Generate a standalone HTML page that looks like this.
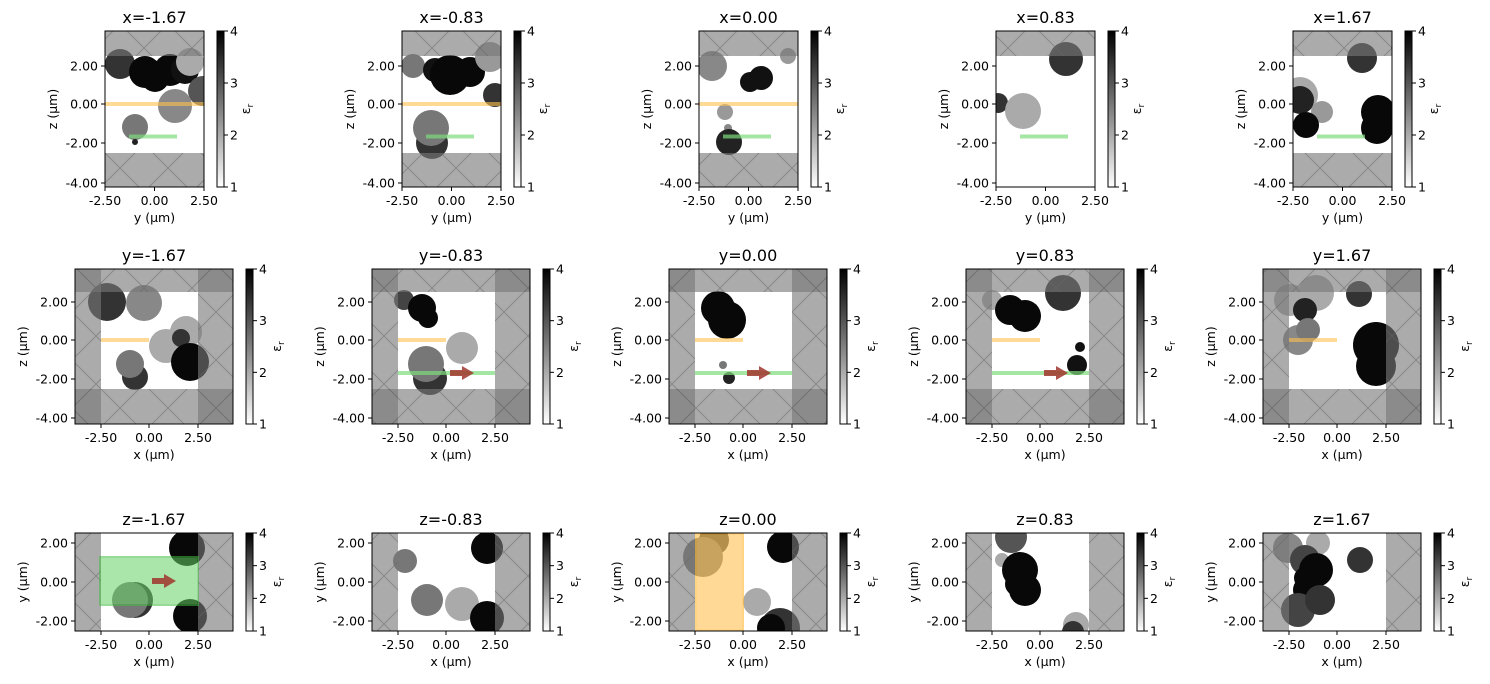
<!DOCTYPE html>
<html><head><meta charset="utf-8"><style>
body{margin:0;background:#fff;}
svg{display:block;font-family:"DejaVu Sans","Liberation Sans",sans-serif;}
</style></head><body>
<svg id="s" width="1490" height="684" xmlns="http://www.w3.org/2000/svg">
<defs>
<pattern id="h" width="48" height="48" patternUnits="userSpaceOnUse">
<path d="M0 0L48 48M48 0L0 48" stroke="#666" stroke-width="1" fill="none"/>
</pattern>
<linearGradient id="cb" x1="0" y1="1" x2="0" y2="0"><stop offset="0" stop-color="#fff"/><stop offset="1" stop-color="#000"/></linearGradient>
</defs>
</svg>
<script>
const S=document.getElementById('s');let out='';
function txt(x,y,t,sz,anc,extra){out+=`<text x="${x}" y="${y}" font-size="${sz}" text-anchor="${anc||'middle'}" ${extra||''}>${t}</text>`;}
const rows=[
 {y0:31,h:156,w:99,xs:[105,402,699,996,1293],xt:[0,49.5,99],xl:['-2.50','0.00','2.50'],yt:[[66,'2.00'],[104,'0.00'],[143,'-2.00'],[183,'-4.00']],
  xlab:'y (μm)',ylab:'z (μm)',tit:['x=-1.67','x=-0.83','x=0.00','x=0.83','x=1.67'],cbx:112,cbl:145,
  gray:(i)=>[[0,0,99,25]].concat(i==3?[]:[[0,122,99,34]])},
 {y0:269,h:155,w:158,xs:[75,372,669,966,1263],xt:[26,74,123],xl:['-2.50','0.00','2.50'],yt:[[302,'2.00'],[340,'0.00'],[379,'-2.00'],[418,'-4.00']],
  xlab:'x (μm)',ylab:'z (μm)',tit:['y=-1.67','y=-0.83','y=0.00','y=0.83','y=1.67'],cbx:171,cbl:206,
  gray:()=>[[0,0,26,155],[123,0,35,155],[0,0,158,23],[0,120,158,35]]},
 {y0:533,h:98,w:158,xs:[75,372,669,966,1263],xt:[26,74,123],xl:['-2.50','0.00','2.50'],yt:[[543,'2.00'],[582,'0.00'],[621,'-2.00']],
  xlab:'x (μm)',ylab:'y (μm)',tit:['z=-1.67','z=-0.83','z=0.00','z=0.83','z=1.67'],cbx:171,cbl:206,
  gray:()=>[[0,0,26,98],[123,0,35,98]]}
];
const C=[
[[[120,64,15,'#333'],[145,72,16,'#080808'],[155,78,14,'#080808'],[170,70,16,'#080808'],[185,70,14,'#111'],[190,62,14,'#aaa'],[203,91,15,'#555'],[175,106,17,'#888'],[135,127,13,'#777'],[135,142,3,'#222']],
 [[413,66,12,'#777'],[435,70,12,'#111'],[450,75,20,'#080808'],[470,72,15,'#080808'],[490,57,15,'#999'],[495,95,12,'#333'],[432,143,16,'#333'],[431,128,18,'#777']],
 [[712,66,15,'#888'],[750,82,10,'#111'],[761,78,12,'#111'],[788,56,8,'#999'],[725,112,8,'#999'],[728,128,4,'#888'],[729,142,13,'#222']],
 [[1066,59,17,'#333'],[998,103,10,'#333'],[1023,111,18,'#aaa']],
 [[1300,95,18,'#aaa'],[1300,100,14,'#222'],[1322,112,11,'#999'],[1306,125,13,'#080808'],[1362,58,15,'#333'],[1378,112,17,'#080808'],[1377,128,16,'#080808']]],
[[[107,302,19,'#333'],[144,303,18,'#888'],[186,332,16,'#aaa'],[166,346,17,'#aaa'],[181,338,9,'#333'],[190,362,19,'#080808'],[135,377,13,'#333'],[130,364,14,'#777']],
 [[404,300,10,'#444'],[422,308,14,'#080808'],[428,318,10,'#080808'],[430,378,17,'#333'],[426,364,18,'#777'],[462,348,16,'#aaa']],
 [[718,308,17,'#080808'],[727,320,19,'#080808'],[723,365,4,'#777'],[729,378,6,'#222']],
 [[992,300,10,'#aaa'],[1010,310,15,'#080808'],[1025,316,16,'#080808'],[1063,293,18,'#333'],[1080,347,5,'#111'],[1077,365,10,'#111']],
 [[1290,300,16,'#aaa'],[1316,293,18,'#aaa'],[1305,310,12,'#222'],[1298,340,15,'#888'],[1308,330,12,'#777'],[1359,294,13,'#333'],[1376,345,23,'#080808'],[1376,366,20,'#080808']]],
[[[187,548,18,'#080808'],[190,616,17,'#080808'],[135,600,18,'#333'],[130,600,18,'#777']],
 [[405,561,12,'#777'],[427,600,16,'#777'],[462,604,17,'#aaa'],[487,548,16,'#080808'],[487,618,17,'#080808']],
 [[714,540,15,'#444'],[703,557,20,'#777'],[757,602,14,'#aaa'],[783,547,16,'#080808'],[780,628,20,'#333'],[771,628,14,'#080808']],
 [[1011,537,16,'#555'],[1002,560,7,'#aaa'],[1020,570,18,'#080808'],[1025,590,16,'#080808'],[1017,584,12,'#080808'],[1076,625,13,'#aaa'],[1073,632,11,'#333']],
 [[1288,548,15,'#888'],[1318,543,12,'#aaa'],[1305,560,15,'#444'],[1316,570,17,'#080808'],[1307,590,14,'#080808'],[1298,610,17,'#444'],[1320,600,15,'#333'],[1360,560,13,'#333'],[1305,578,11,'#080808']]]
];
function arrow(x,y){out+=`<polygon points="${x},${y-3} ${x+12},${y-3} ${x+12},${y-7} ${x+24},${y} ${x+12},${y+7} ${x+12},${y+3} ${x},${y+3}" fill="#a0352c" opacity="0.85"/>`;}
rows.forEach((R,ri)=>{R.xs.forEach((x0,ci)=>{
 const y0=R.y0,w=R.w,h=R.h,id=`c${ri}${ci}`;
 out+=`<clipPath id="${id}"><rect x="${x0}" y="${y0}" width="${w}" height="${h}"/></clipPath><g clip-path="url(#${id})">`;
 C[ri][ci].forEach(c=>{out+=`<circle cx="${c[0]}" cy="${c[1]}" r="${c[2]}" fill="${c[3]}"/>`;});
 R.gray(ci).forEach(g=>{out+=`<rect x="${x0+g[0]}" y="${y0+g[1]}" width="${g[2]}" height="${g[3]}" fill="#777" opacity="0.62"/><rect x="${x0+g[0]}" y="${y0+g[1]}" width="${g[2]}" height="${g[3]}" fill="url(#h)" opacity="0.5"/>`;});
 if(ri==0){ if(ci<3) out+=`<rect x="${x0}" y="102" width="99" height="4" fill="#ffc050" opacity="0.6"/>`;
   out+=`<rect x="${x0+24}" y="134.5" width="48" height="4" fill="#7ddc7d" opacity="0.7"/>`;}
 if(ri==1){ out+=`<rect x="${x0+26}" y="338" width="48" height="4" fill="#ffc050" opacity="0.6"/>`;
   if(ci>0&&ci<4){out+=`<rect x="${x0+26}" y="371" width="97" height="4" fill="#7ddc7d" opacity="0.7"/>`;arrow(x0+78,373);}}
 if(ri==2&&ci==0){out+=`<rect x="${x0+25}" y="557" width="98" height="48" fill="#66d066" opacity="0.55" stroke="#44bb44" stroke-width="2"/>`;arrow(x0+77,581);}
 if(ri==2&&ci==2){out+=`<rect x="${x0+27}" y="534" width="47" height="96" fill="#ffc050" opacity="0.6" stroke="#ffb830" stroke-width="2"/>`;}
 out+=`</g><rect x="${x0}" y="${y0}" width="${w}" height="${h}" fill="none" stroke="#000" stroke-width="1"/>`;
 R.xt.forEach((t,k)=>{out+=`<line x1="${x0+t}" y1="${y0+h}" x2="${x0+t}" y2="${y0+h+4}" stroke="#000"/>`;txt(x0+t,y0+h+18,R.xl[k],12.5);});
 R.yt.forEach(t=>{out+=`<line x1="${x0-4}" y1="${t[0]}" x2="${x0}" y2="${t[0]}" stroke="#000"/>`;txt(x0-7,t[0]+4.5,t[1],12.5,'end');});
 txt(x0+w/2,y0+h+35,R.xlab,12.5);
 const ly=y0+h/2;txt(0,0,R.ylab,12.5,'middle',`transform="translate(${x0-48},${ly}) rotate(-90)"`);
 txt(x0+w/2,y0-8,R.tit[ci],16);
 const cx=x0+R.cbx;
 out+=`<rect x="${cx}" y="${y0}" width="7" height="${h}" fill="url(#cb)" stroke="#000" stroke-width="1"/>`;
 for(let v=1;v<=4;v++){const yy=y0+h-(v-1)/3*h;out+=`<line x1="${cx+7}" y1="${yy}" x2="${cx+11}" y2="${yy}" stroke="#000"/>`;txt(cx+13,yy+4.5,v,12.5,'start');}
 txt(0,0,'ε<tspan font-size="9" dy="3">r</tspan>',12.5,'middle',`transform="translate(${x0+R.cbl},${ly}) rotate(-90)"`);
});});
S.insertAdjacentHTML('beforeend',out);
</script>
</body></html>
